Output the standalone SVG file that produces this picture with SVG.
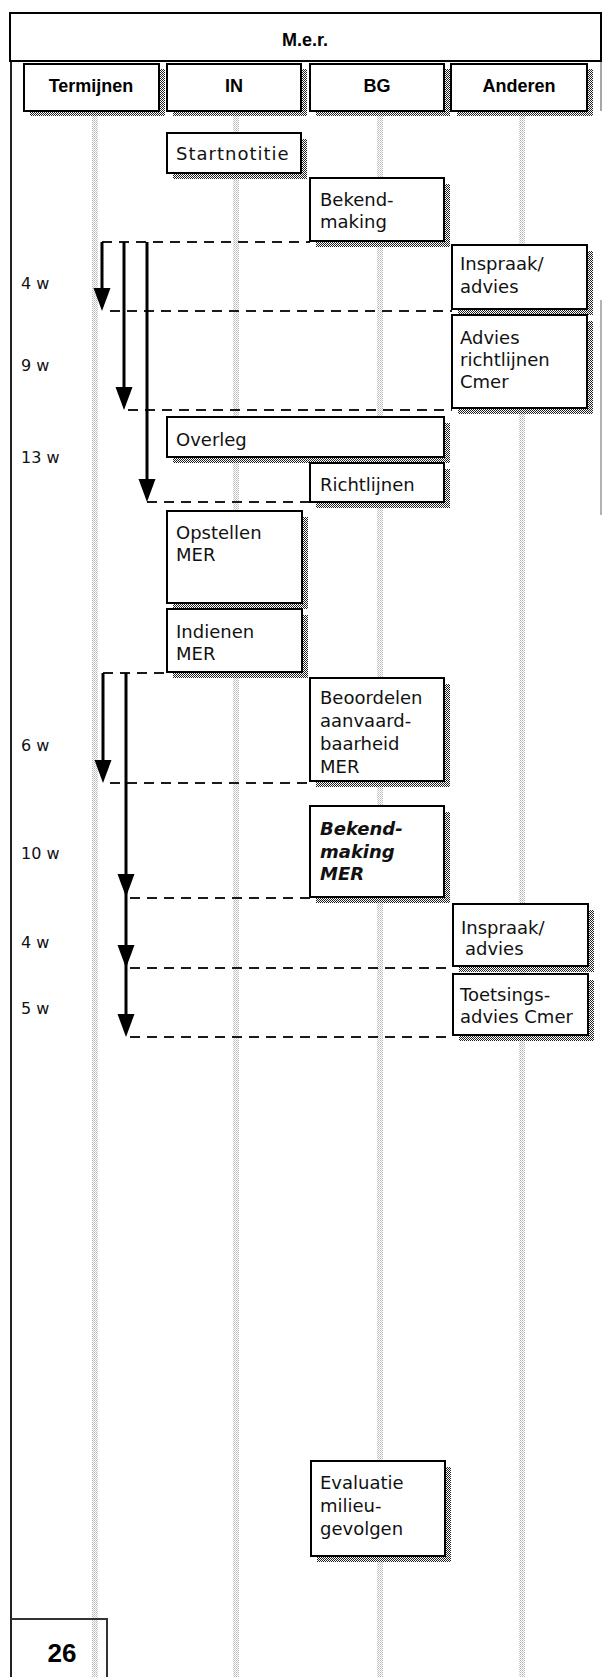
<svg xmlns="http://www.w3.org/2000/svg" width="603" height="1677" viewBox="0 0 603 1677">
<style>
.bx{fill:#fff;stroke:#000;stroke-width:2}
.sh{fill:url(#dk)}
.col{fill:url(#lt)}
.t{font-family:"DejaVu Sans",sans-serif;font-size:18px;fill:#111}
.bi{font-weight:bold;font-style:italic}
.h{font-family:"Liberation Sans",Arial,sans-serif;font-weight:bold;font-size:18px;text-anchor:middle;fill:#000}
.tl{font-family:"DejaVu Sans",sans-serif;font-size:16px;fill:#111}
.dash{stroke:#1a1a1a;stroke-width:2;stroke-dasharray:10 7;fill:none}
.ln{stroke:#000;stroke-width:3;fill:none}
.ah{fill:#000}
.fr{stroke:#222;stroke-width:2;fill:none}
</style>
<defs>
<pattern id="dk" patternUnits="userSpaceOnUse" width="2" height="2"><rect width="2" height="2" fill="#fff"/><rect x="0" y="0" width="1" height="1" fill="#222"/><rect x="1" y="1" width="1" height="1" fill="#222"/></pattern>
<pattern id="lt" patternUnits="userSpaceOnUse" width="2" height="2"><rect width="2" height="2" fill="#fff"/><rect x="0" y="0" width="1" height="1" fill="#b8b8b8"/><rect x="1" y="1" width="1" height="1" fill="#d0d0d0"/></pattern>
<path id="ahd" d="M-8.5,-23 L8.5,-23 L0,0 Z"/>
</defs>

<g id="frame">
<line class="fr" x1="11" y1="13" x2="11" y2="1677"/>
<line x1="601" y1="13" x2="601" y2="111" stroke="#888" stroke-width="1.5"/>
<line x1="601" y1="300" x2="601" y2="515" stroke="#999" stroke-width="1.5"/>
</g>

<g id="columns">
<rect class="col" x="92" y="111" width="6" height="1566"/>
<rect class="col" x="233" y="111" width="6" height="1566"/>
<rect class="col" x="377" y="111" width="6" height="1566"/>
<rect class="col" x="519" y="111" width="6" height="1566"/>
</g>

<g id="header">
<rect x="10" y="13" width="591" height="48" fill="#fff" stroke="#000" stroke-width="2"/>
<text class="h" x="305" y="46">M.e.r.</text>
</g>

<g id="col-termijnen">
<rect class="sh" x="30" y="69" width="135" height="47"/>
<rect class="bx" x="24" y="64" width="135" height="47"/>
<text class="h" x="91" y="92">Termijnen</text>
</g>
<g id="col-in">
<rect class="sh" x="173" y="69" width="134" height="47"/>
<rect class="bx" x="167" y="64" width="134" height="47"/>
<text class="h" x="234" y="92">IN</text>
</g>
<g id="col-bg">
<rect class="sh" x="316" y="69" width="134" height="47"/>
<rect class="bx" x="310" y="64" width="134" height="47"/>
<text class="h" x="377" y="92">BG</text>
</g>
<g id="col-anderen">
<rect class="sh" x="457" y="69" width="136" height="47"/>
<rect class="bx" x="451" y="64" width="136" height="47"/>
<text class="h" x="519" y="92">Anderen</text>
</g>

<g id="labels">
<text class="tl" x="21" y="289">4 w</text>
<text class="tl" x="21" y="371">9 w</text>
<text class="tl" x="21" y="463">13 w</text>
<text class="tl" x="21" y="751">6 w</text>
<text class="tl" x="21" y="859">10 w</text>
<text class="tl" x="21" y="948">4 w</text>
<text class="tl" x="21" y="1014">5 w</text>
</g>

<g id="connectors">
<line class="dash" x1="102" y1="242" x2="310" y2="242"/>
<line class="dash" x1="110" y1="311" x2="452" y2="311"/>
<line class="dash" x1="128" y1="410" x2="452" y2="410"/>
<line class="dash" x1="147" y1="502" x2="310" y2="502"/>
<line class="dash" x1="103" y1="673" x2="167" y2="673"/>
<line class="dash" x1="110" y1="783" x2="310" y2="783"/>
<line class="dash" x1="130" y1="898" x2="310" y2="898"/>
<line class="dash" x1="130" y1="968" x2="452" y2="968"/>
<line class="dash" x1="130" y1="1037" x2="452" y2="1037"/>
<line class="ln" x1="102" y1="242" x2="102" y2="300"/>
<use href="#ahd" class="ah" x="102" y="311"/>
<line class="ln" x1="124" y1="242" x2="124" y2="398"/>
<use href="#ahd" class="ah" x="124" y="410"/>
<line class="ln" x1="147" y1="242" x2="147" y2="490"/>
<use href="#ahd" class="ah" x="147" y="502"/>
<line class="ln" x1="103" y1="673" x2="103" y2="771"/>
<use href="#ahd" class="ah" x="103" y="783"/>
<line class="ln" x1="126" y1="673" x2="126" y2="1025"/>
<use href="#ahd" class="ah" x="126" y="897"/>
<use href="#ahd" class="ah" x="126" y="968"/>
<use href="#ahd" class="ah" x="126" y="1037"/>
</g>

<g id="startnotitie">
<rect class="sh" x="173" y="139" width="134" height="40"/>
<rect class="bx" x="167" y="133" width="134" height="40"/>
<text class="t" x="176" y="160" letter-spacing="1">Startnotitie</text>
</g>
<g id="bekendmaking">
<rect class="sh" x="316" y="184" width="134" height="63"/>
<rect class="bx" x="310" y="178" width="134" height="63"/>
<text class="t" x="320" y="206">Bekend-</text>
<text class="t" x="320" y="228">making</text>
</g>
<g id="inspraak1">
<rect class="sh" x="458" y="251" width="135" height="64"/>
<rect class="bx" x="452" y="245" width="135" height="64"/>
<text class="t" x="460" y="270">Inspraak/</text>
<text class="t" x="460" y="293">advies</text>
</g>
<g id="advies-richtlijnen">
<rect class="sh" x="458" y="321" width="135" height="93"/>
<rect class="bx" x="452" y="315" width="135" height="93"/>
<text class="t" x="460" y="344">Advies</text>
<text class="t" x="460" y="366">richtlijnen</text>
<text class="t" x="460" y="388">Cmer</text>
</g>
<g id="overleg">
<rect class="sh" x="173" y="423" width="277" height="40"/>
<rect class="bx" x="167" y="417" width="277" height="40"/>
<text class="t" x="176" y="446">Overleg</text>
</g>
<g id="richtlijnen">
<rect class="sh" x="316" y="469" width="134" height="39"/>
<rect class="bx" x="310" y="463" width="134" height="39"/>
<text class="t" x="320" y="491">Richtlijnen</text>
</g>
<g id="opstellen">
<rect class="sh" x="173" y="517" width="135" height="92"/>
<rect class="bx" x="167" y="511" width="135" height="92"/>
<text class="t" x="176" y="539">Opstellen</text>
<text class="t" x="176" y="561">MER</text>
</g>
<g id="indienen">
<rect class="sh" x="173" y="615" width="135" height="63"/>
<rect class="bx" x="167" y="609" width="135" height="63"/>
<text class="t" x="176" y="638">Indienen</text>
<text class="t" x="176" y="660">MER</text>
</g>
<g id="beoordelen">
<rect class="sh" x="316" y="684" width="134" height="103"/>
<rect class="bx" x="310" y="678" width="134" height="103"/>
<text class="t" x="320" y="704">Beoordelen</text>
<text class="t" x="320" y="727">aanvaard-</text>
<text class="t" x="320" y="750">baarheid</text>
<text class="t" x="320" y="773">MER</text>
</g>
<g id="bekendmaking-mer">
<rect class="sh" x="316" y="812" width="134" height="91"/>
<rect class="bx" x="310" y="806" width="134" height="91"/>
<text class="t bi" x="320" y="835">Bekend-</text>
<text class="t bi" x="320" y="858">making</text>
<text class="t bi" x="320" y="880">MER</text>
</g>
<g id="inspraak2">
<rect class="sh" x="459" y="910" width="135" height="62"/>
<rect class="bx" x="453" y="904" width="135" height="62"/>
<text class="t" x="461" y="934">Inspraak/</text>
<text class="t" x="465" y="955">advies</text>
</g>
<g id="toetsingsadvies">
<rect class="sh" x="459" y="980" width="135" height="61"/>
<rect class="bx" x="453" y="974" width="135" height="61"/>
<text class="t" x="460" y="1001">Toetsings-</text>
<text class="t" x="460" y="1023">advies Cmer</text>
</g>
<g id="evaluatie">
<rect class="sh" x="317" y="1467" width="134" height="95"/>
<rect class="bx" x="311" y="1461" width="134" height="95"/>
<text class="t" x="320" y="1489">Evaluatie</text>
<text class="t" x="320" y="1512">milieu-</text>
<text class="t" x="320" y="1535">gevolgen</text>
</g>

<g id="pagenumber">
<path d="M11,1619 H107 V1677" fill="none" stroke="#333" stroke-width="2"/>
<text x="62" y="1662" font-family="Liberation Sans, Arial, sans-serif" font-weight="bold" font-size="26" text-anchor="middle">26</text>
</g>
</svg>
